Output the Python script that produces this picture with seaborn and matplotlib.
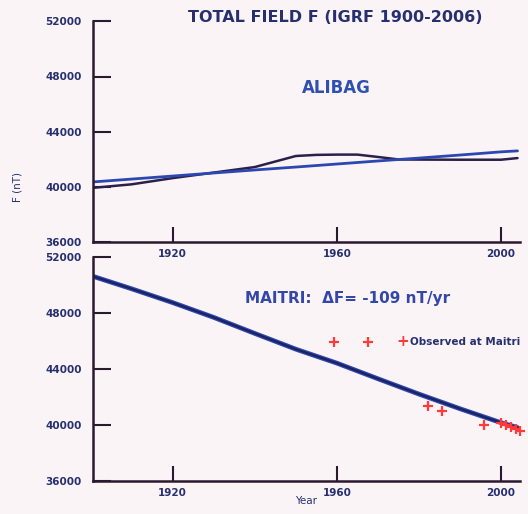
import matplotlib
matplotlib.use("Agg")
import matplotlib.pyplot as plt
import seaborn as sns
import pandas as pd

# ---- data ----
alibag_years_igrf = [1900, 1910, 1920, 1930, 1940, 1950, 1960, 1970, 1980, 1990, 2000, 2004]
alibag_igrf = [40360, 40580, 40800, 41020, 41240, 41450, 41670, 41890, 42100, 42320, 42550, 42620]

alibag_years_obs = [1900, 1910, 1920, 1925, 1930, 1940, 1945, 1950, 1955, 1960, 1965, 1970, 1975, 1980, 1990, 2000, 2004]
alibag_obs = [39930, 40200, 40650, 40850, 41050, 41450, 41850, 42250, 42330, 42350, 42350, 42180, 42000, 41990, 41980, 41980, 42100]

maitri_years = [1900, 1910, 1920, 1930, 1940, 1950, 1960, 1970, 1980, 1990, 2000, 2004]
maitri_igrf = [50700, 49750, 48760, 47700, 46550, 45420, 44420, 43300, 42200, 41150, 40150, 39800]

obs_years = [1959.3, 1967.5, 1982.1, 1985.7, 1995.9, 2000.0, 2001.2, 2002.4, 2003.6, 2004.6]
obs_values = [45930, 45930, 41350, 40990, 39990, 40130, 39990, 39840, 39700, 39560]

yticks = [36000, 40000, 44000, 48000, 52000]
xticks = [1920, 1960, 2000]

BG = "#fbf4f7"
NAVY = "#26306e"
BLUE = "#2c48b0"
DARK = "#2a2048"
RED = "#ff3a3a"
SPINE = "#2a1a2e"

sns.set_style("ticks")
plt.rcParams["font.family"] = ["DejaVu Sans"]

W, H = 528, 514
fig = plt.figure(figsize=(5.28, 5.14), dpi=100, facecolor=BG)
ax1 = fig.add_axes([93/W, 1 - 242.4/H, 427/W, 221.2/H], facecolor=BG)
ax2 = fig.add_axes([93/W, 1 - 480.6/H, 427/W, 223.2/H], facecolor=BG)

df_a1 = pd.DataFrame({"Year": alibag_years_igrf, "F": alibag_igrf})
df_a2 = pd.DataFrame({"Year": alibag_years_obs, "F": alibag_obs})
sns.lineplot(data=df_a2, x="Year", y="F", ax=ax1, color=DARK, lw=1.8)
sns.lineplot(data=df_a1, x="Year", y="F", ax=ax1, color=BLUE, lw=2.0)

df_m = pd.DataFrame({"Year": maitri_years, "F": maitri_igrf})
sns.lineplot(data=df_m, x="Year", y="F", ax=ax2, color=BLUE, lw=3.4)
sns.lineplot(data=df_m, x="Year", y="F", ax=ax2, color="#1c2260", lw=1.6)
df_o = pd.DataFrame({"Year": obs_years, "F": obs_values})
sns.scatterplot(data=df_o, x="Year", y="F", ax=ax2, marker="+", color=RED,
                s=45, linewidth=1.6, zorder=5)
for c in ax2.collections:
    c.set_clip_on(False)

for ax in (ax1, ax2):
    ax.set_xlim(1900.6, 2004.6)
    ax.set_ylim(36000, 52000)
    ax.set_yticks(yticks)
    ax.set_yticklabels([str(v) for v in yticks])
    ax.set_xticks(xticks)
    ax.set_xticklabels([str(v) for v in xticks])
    ax.tick_params(axis="y", direction="in", length=13, width=1.5, color=SPINE,
                   labelsize=7.5, labelcolor=NAVY, pad=8)
    ax.tick_params(axis="x", direction="in", length=11, width=1.5, color=SPINE,
                   labelsize=7.5, labelcolor=NAVY, pad=5)
    for lab in ax.get_xticklabels() + ax.get_yticklabels():
        lab.set_fontweight("bold")
    for s in ("top", "right"):
        ax.spines[s].set_visible(False)
    for s in ("left", "bottom"):
        ax.spines[s].set_color(SPINE)
        ax.spines[s].set_linewidth(1.8)
    ax.set_xlabel("")
    ax.set_ylabel("")

ax2.set_xlabel("Year", fontsize=7.5, color=NAVY, labelpad=-1)
fig.text(18/W, 1 - 187/H, "F (nT)", rotation=90, ha="center", va="center",
         fontsize=7.5, color=NAVY)

fig.text(335/W, 1 - 18/H, "TOTAL FIELD F (IGRF 1900-2006)", ha="center", va="center",
         fontsize=11.5, fontweight="bold", color=NAVY)
fig.text(336/W, 1 - 88/H, "ALIBAG", ha="center", va="center",
         fontsize=12, fontweight="bold", color="#3050b0")
fig.text(348/W, 1 - 298/H, "MAITRI:  ΔF= -109 nT/yr", ha="center", va="center",
         fontsize=11, fontweight="bold", color="#3347a8")
fig.text(403/W, 1 - 342/H, "+", ha="center", va="center",
         fontsize=11, fontweight="bold", color=RED)
fig.text(410/W, 1 - 342/H, "Observed at Maitri", ha="left", va="center",
         fontsize=7.5, fontweight="bold", color=NAVY)

fig.savefig("out.png", dpi=100, facecolor=BG)
